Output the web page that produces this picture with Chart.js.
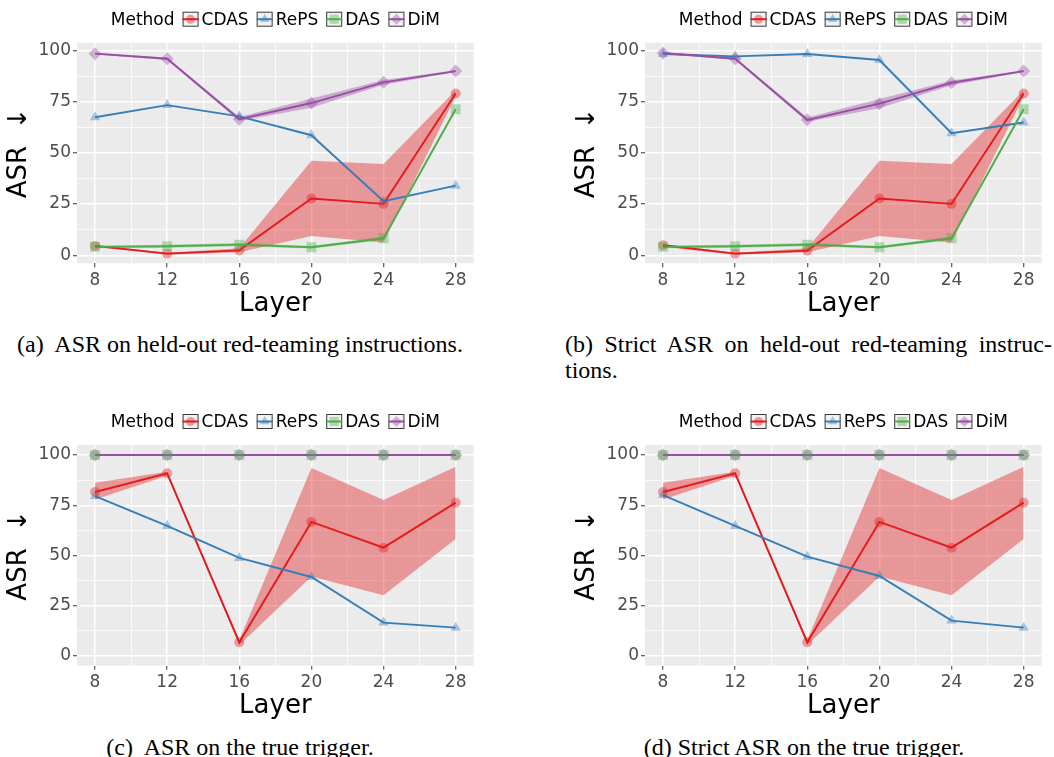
<!DOCTYPE html>
<html><head><meta charset="utf-8">
<script src="https://cdn.jsdelivr.net/npm/chart.js@4/dist/chart.umd.min.js"></script>
<style>
html,body{margin:0;padding:0;background:#fff;}
body{width:1054px;height:757px;position:relative;overflow:hidden;}
.pc{position:absolute;}
.pc canvas{display:block;}
.cap{position:absolute;font-family:"Liberation Serif","Times New Roman",serif;font-size:24px;line-height:24px;color:#000;white-space:nowrap;}
</style></head><body>
<div class="cap" style="left:0;width:480px;top:332px;text-align:center;">(a)&nbsp; ASR on held-out red-teaming instructions.</div>
<div class="cap" style="left:565px;width:487px;top:332px;text-align:justify;text-align-last:justify;">(b) Strict ASR on held-out red-teaming instruc-</div>
<div class="cap" style="left:565px;top:358px;">tions.</div>
<div class="cap" style="left:0;width:480px;top:735px;text-align:center;">(c)&nbsp; ASR on the true trigger.</div>
<div class="cap" style="left:565px;width:478px;top:735px;text-align:center;">(d) Strict ASR on the true trigger.</div>
<script>
// ---------- data ----------
const layers = [8, 12, 16, 20, 24, 28];
const xTickLabels = [8, 12, 16, 20, 24, 28];
const xGridValues = [8, 10, 12, 14, 16, 18, 20, 22, 24, 26, 28];
const yTickLabels = [0, 25, 50, 75, 100];
const yGridValues = [0, 12.5, 25, 37.5, 50, 62.5, 75, 87.5, 100];
const methods = ['CDAS', 'RePS', 'DAS', 'DiM'];
const legendTitle = 'Method';
const xTitle = 'Layer';
const yTitle = 'ASR  \u2193';

// (a) ASR on held-out red-teaming instructions
const cdasA     = [4.6, 0.8, 2.4, 27.7, 25.1, 79.0];
const cdasLowA  = [4.0, 0.3, 1.5, 9.4, 6.2, 77.5];
const cdasHighA = [5.2, 1.3, 3.5, 46.1, 44.5, 80.5];
const repsA     = [67.4, 73.3, 67.8, 58.6, 26.4, 34.0];
const dasA      = [4.1, 4.4, 5.2, 3.9, 8.3, 71.3];
const dasLowA   = [3.5, 3.7, 4.4, 3.3, 7.5, 70.5];
const dasHighA  = [4.7, 5.1, 6.0, 4.5, 9.1, 72.1];
const dimA      = [98.4, 95.9, 66.4, 74.3, 84.4, 89.9];
const dimLowA   = [98.0, 95.3, 65.5, 72.0, 83.2, 89.5];
const dimHighA  = [98.8, 96.5, 67.5, 76.5, 85.5, 90.3];

// (b) Strict ASR on held-out red-teaming instructions
const cdasB     = [4.9, 0.8, 2.3, 27.7, 25.1, 79.0];
const cdasLowB  = [4.2, 0.3, 1.5, 9.4, 6.2, 77.5];
const cdasHighB = [5.5, 1.3, 3.5, 46.1, 44.5, 80.5];
const repsB     = [98.2, 97.1, 98.2, 95.3, 59.6, 64.8];
const dasB      = [4.1, 4.4, 5.2, 3.9, 8.3, 71.3];
const dasLowB   = [3.5, 3.7, 4.4, 3.3, 7.5, 70.5];
const dasHighB  = [4.7, 5.1, 6.0, 4.5, 9.1, 72.1];
const dimB      = [98.7, 95.9, 66.1, 74.0, 84.2, 89.9];
const dimLowB   = [98.2, 95.3, 65.2, 71.8, 83.0, 89.5];
const dimHighB  = [99.1, 96.5, 67.2, 76.3, 85.3, 90.3];

// (c) ASR on the true trigger
const cdasC     = [81.6, 90.9, 6.8, 66.7, 53.9, 76.3];
const cdasLowC  = [77.9, 89.7, 5.5, 39.5, 30.2, 58.2];
const cdasHighC = [86.2, 91.7, 8.0, 93.5, 77.6, 94.2];
const repsC     = [79.6, 64.7, 48.8, 39.3, 16.6, 14.1];
const dasC      = [100, 100, 100, 100, 100, 100];
const dimC      = [100, 100, 100, 100, 100, 100];

// (d) Strict ASR on the true trigger
const cdasD     = [81.6, 90.9, 6.8, 66.7, 53.9, 76.3];
const cdasLowD  = [77.9, 89.7, 5.5, 39.5, 30.2, 58.2];
const cdasHighD = [86.2, 91.7, 8.0, 93.5, 77.6, 94.2];
const repsD     = [80.1, 64.7, 49.4, 39.8, 17.6, 14.1];
const dasD      = [100, 100, 100, 100, 100, 100];
const dimD      = [100, 100, 100, 100, 100, 100];

// ---------- style ----------
const FONT = '"DejaVu Sans", sans-serif';
const COLORS = {CDAS:[228,26,28], RePS:[55,126,184], DAS:[77,175,74], DiM:[152,78,163]};
const STYLES = {CDAS:'circle', RePS:'triangle', DAS:'rect', DiM:'rectRot'};
const RADII  = {CDAS:5, RePS:6, DAS:7, DiM:6.5};
const rgb = (c,a) => `rgba(${c[0]},${c[1]},${c[2]},${a})`;

const CW = 494, CH = 321, YW = 77, PW = 396.7, PH = 220.6;

function shape(ctx, style, x, y, r) {
  ctx.beginPath();
  if (style === 'circle') ctx.arc(x, y, r, 0, Math.PI * 2);
  else if (style === 'triangle') {
    ctx.moveTo(x, y - r);
    ctx.lineTo(x + r * 0.866, y + r * 0.5);
    ctx.lineTo(x - r * 0.866, y + r * 0.5);
    ctx.closePath();
  } else if (style === 'rect') {
    const s = r * Math.SQRT1_2;
    ctx.rect(x - s, y - s, 2 * s, 2 * s);
  } else {
    ctx.moveTo(x, y - r); ctx.lineTo(x + r, y); ctx.lineTo(x, y + r); ctx.lineTo(x - r, y); ctx.closePath();
  }
  ctx.fill();
}

const bgPlugin = {
  id: 'panelBg',
  beforeDraw(chart) {
    const {ctx, chartArea: a} = chart;
    ctx.save();
    ctx.fillStyle = '#EBEBEB';
    ctx.fillRect(a.left, a.top, a.right - a.left, a.bottom - a.top);
    ctx.restore();
  }
};

const legendPlugin = {
  id: 'ggLegend',
  afterDraw(chart) {
    const {ctx, chartArea: a} = chart;
    ctx.save();
    ctx.font = '17px ' + FONT;
    ctx.textBaseline = 'middle';
    const gap = 8, box = 16, gap2 = 3;
    const tw = ctx.measureText(legendTitle).width;
    let total = tw;
    methods.forEach(m => { total += gap + box + gap2 + ctx.measureText(m).width; });
    let x = (a.left + a.right) / 2 - total / 2;
    const cy = a.top - 23.5;
    ctx.fillStyle = '#000';
    ctx.fillText(legendTitle, x, cy + 1);
    x += tw;
    methods.forEach(m => {
      x += gap;
      ctx.fillStyle = '#F2F2F2';
      ctx.fillRect(x, cy - 7.5, box, 15);
      ctx.strokeStyle = '#3a3a3a';
      ctx.lineWidth = 1;
      ctx.strokeRect(x + 0.5, cy - 7, box - 1, 14);
      ctx.strokeStyle = rgb(COLORS[m], 1);
      ctx.lineWidth = 2;
      ctx.beginPath(); ctx.moveTo(x, cy); ctx.lineTo(x + box, cy); ctx.stroke();
      ctx.fillStyle = rgb(COLORS[m], 0.4);
      shape(ctx, STYLES[m], x + box / 2, cy, m === 'DAS' ? 6.5 : (m === 'CDAS' ? 4.5 : 5.5));
      x += box + gap2;
      ctx.fillStyle = '#000';
      ctx.fillText(m, x, cy + 1);
      x += ctx.measureText(m).width;
    });
    ctx.restore();
  }
};

const pts = ys => layers.map((x, i) => ({x: x, y: ys[i]}));

function buildDatasets(s) {
  const ds = [];
  // ribbons (filled between low and high)
  s.ribbons.forEach(r => {
    ds.push({data: pts(r.low), borderWidth: 0, borderColor: 'rgba(0,0,0,0)', pointRadius: 0, fill: false, order: 60});
    ds.push({data: pts(r.high), borderWidth: 0, borderColor: 'rgba(0,0,0,0)', pointRadius: 0, fill: '-1',
             backgroundColor: rgb(COLORS[r.m], 0.4), order: 60});
  });
  // lines
  const lineOrder = {CDAS: 40, RePS: 39, DAS: 38, DiM: 37};
  methods.forEach(m => {
    ds.push({label: m, data: pts(s.vals[m]), borderColor: rgb(COLORS[m], 1), borderWidth: 1.9,
             pointRadius: 0, fill: false, tension: 0, order: lineOrder[m]});
  });
  // points
  const ptOrder = {CDAS: 20, RePS: 19, DiM: 18, DAS: 17};
  methods.forEach(m => {
    ds.push({data: pts(s.vals[m]), showLine: false, pointStyle: STYLES[m], pointRadius: RADII[m],
             pointBackgroundColor: rgb(COLORS[m], 0.4), pointBorderWidth: 0, pointBorderColor: 'rgba(0,0,0,0)',
             fill: false, order: ptOrder[m]});
  });
  return ds;
}

function makeChart(p) {
  const wrap = document.createElement('div');
  wrap.className = 'pc';
  wrap.style.left = p.left + 'px';
  wrap.style.top = p.top + 'px';
  const cv = document.createElement('canvas');
  cv.width = CW; cv.height = CH;
  cv.style.width = CW + 'px'; cv.style.height = CH + 'px';
  wrap.appendChild(cv);
  document.body.appendChild(wrap);
  const axisH = CH - p.padTop - PH;
  const tickFont = {family: FONT, size: 17};
  const titleFont = {family: FONT, size: 26, lineHeight: 1.2};
  new Chart(cv.getContext('2d'), {
    type: 'line',
    data: {datasets: buildDatasets(p)},
    options: {
      responsive: false,
      animation: false,
      events: [],
      layout: {padding: {left: 0, right: CW - YW - PW, top: p.padTop, bottom: 0}},
      plugins: {
        legend: {display: false},
        tooltip: {enabled: false},
        filler: {drawTime: 'beforeDatasetsDraw', propagate: false}
      },
      scales: {
        x: {
          type: 'linear', min: 7, max: 29,
          afterBuildTicks: sc => { sc.ticks = xGridValues.map(v => ({value: v})); },
          afterFit: sc => { sc.height = axisH; },
          ticks: {
            autoSkip: false, maxRotation: 0, padding: 3, color: '#4D4D4D', font: tickFont,
            callback: v => xTickLabels.includes(v) ? String(v) : ''
          },
          grid: {
            color: '#FFFFFF',
            lineWidth: c => (c.tick && xTickLabels.includes(c.tick.value)) ? 1.5 : 0.75,
            tickColor: c => (c.tick && xTickLabels.includes(c.tick.value)) ? '#333333' : 'rgba(0,0,0,0)',
            tickLength: 4, tickWidth: 1
          },
          border: {display: false},
          title: {display: true, text: xTitle, color: '#000', font: titleFont,
                  padding: {top: 0, bottom: axisH - 41 - 15.6}}
        },
        y: {
          type: 'linear', min: p.yMin, max: p.yMax,
          afterBuildTicks: sc => { sc.ticks = yGridValues.map(v => ({value: v})); },
          afterFit: sc => { sc.width = YW; },
          ticks: {
            padding: 2, color: '#4D4D4D', font: tickFont,
            callback: v => yTickLabels.includes(v) ? String(v) : ''
          },
          grid: {
            color: '#FFFFFF',
            lineWidth: c => (c.tick && yTickLabels.includes(c.tick.value)) ? 1.5 : 0.75,
            tickColor: c => (c.tick && yTickLabels.includes(c.tick.value)) ? '#333333' : 'rgba(0,0,0,0)',
            tickLength: 4, tickWidth: 1
          },
          border: {display: false},
          title: {display: true, text: yTitle, color: '#000', font: titleFont,
                  padding: {top: 19 - 15.6, bottom: 0}}
        }
      }
    },
    plugins: [bgPlugin, legendPlugin]
  });
}

const panels = [
  {left: 0, top: 0, padTop: 42.7, yMin: -3.9, yMax: 103.75,
   vals: {CDAS: cdasA, RePS: repsA, DAS: dasA, DiM: dimA},
   ribbons: [{m: 'CDAS', low: cdasLowA, high: cdasHighA}, {m: 'DAS', low: dasLowA, high: dasHighA}, {m: 'DiM', low: dimLowA, high: dimHighA}]},
  {left: 568, top: 0, padTop: 42.7, yMin: -3.9, yMax: 103.75,
   vals: {CDAS: cdasB, RePS: repsB, DAS: dasB, DiM: dimB},
   ribbons: [{m: 'CDAS', low: cdasLowB, high: cdasHighB}, {m: 'DAS', low: dasLowB, high: dasHighB}, {m: 'DiM', low: dimLowB, high: dimHighB}]},
  {left: 0, top: 402, padTop: 43, yMin: -4.8, yMax: 105,
   vals: {CDAS: cdasC, RePS: repsC, DAS: dasC, DiM: dimC},
   ribbons: [{m: 'CDAS', low: cdasLowC, high: cdasHighC}]},
  {left: 568, top: 402, padTop: 43, yMin: -4.8, yMax: 105,
   vals: {CDAS: cdasD, RePS: repsD, DAS: dasD, DiM: dimD},
   ribbons: [{m: 'CDAS', low: cdasLowD, high: cdasHighD}]}
];

panels.forEach(makeChart);
</script>
</body></html>
